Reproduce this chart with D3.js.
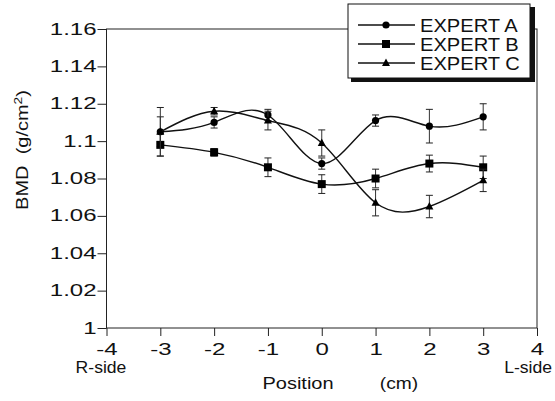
<!DOCTYPE html>
<html><head><meta charset="utf-8">
<script src="https://cdn.jsdelivr.net/npm/d3@7"></script>
<style>body{margin:0;background:#fff}svg{display:block;font-family:"Liberation Sans",Arial,sans-serif}</style>
</head><body><svg id="c" width="555" height="401"></svg>
<script>
const positions = [-3, -2, -1, 0, 1, 2, 3];
const expertA = [1.105, 1.110, 1.114, 1.088, 1.111, 1.108, 1.113];
const errA    = [0.008, 0.003, 0.003, 0.003, 0.003, 0.009, 0.007];
const expertB = [1.098, 1.094, 1.086, 1.077, 1.080, 1.088, 1.086];
const errB    = [0.006, 0.002, 0.005, 0.005, 0.005, 0.0045, 0.006];
const expertC = [1.105, 1.116, 1.111, 1.099, 1.067, 1.065, 1.079];
const errC    = [0.013, 0.002, 0.005, 0.007, 0.007, 0.006, 0.006];
const xTicks = [-4, -3, -2, -1, 0, 1, 2, 3, 4];
const yTicks = [1, 1.02, 1.04, 1.06, 1.08, 1.1, 1.12, 1.14, 1.16];
const yTickLabels = ["1", "1.02", "1.04", "1.06", "1.08", "1.1", "1.12", "1.14", "1.16"];
const seriesNames = ["EXPERT A", "EXPERT B", "EXPERT C"];

const svg = d3.select("#c");
const L = 106.5, R = 537, T = 29, B = 328;
const x = d3.scaleLinear().domain([-4, 4]).range([L, R]);
const y = d3.scaleLinear().domain([1, 1.16]).range([B, T]);
const FONT = '"Liberation Sans",Arial,sans-serif';
const TS = 1.5;

// frame
svg.append("rect").attr("x", L).attr("y", T).attr("width", R - L).attr("height", B - T)
  .attr("fill", "none").attr("stroke", "#222").attr("stroke-width", 1);

// axes
const yAxis = svg.append("g").attr("transform", `translate(${L},0)`)
  .call(d3.axisLeft(y).tickValues(yTicks).tickFormat((d, i) => yTickLabels[i]).tickSize(9).tickPadding(1));
const xAxis = svg.append("g").attr("transform", `translate(0,${B})`)
  .call(d3.axisBottom(x).tickValues(xTicks).tickFormat(d => String(d)).tickSize(8).tickPadding(8));
[yAxis, xAxis].forEach(g => {
  g.select(".domain").remove();
  g.selectAll("line").attr("stroke", "#222");
  g.selectAll("text").attr("fill", "#111").style("font-size", "16px").style("font-family", FONT)
    .attr("transform", `scale(${TS},1)`);
});
yAxis.selectAll("text").attr("x", -10 / TS);

function label(tx, ty, str, size, sx, anchor) {
  return svg.append("text").attr("transform", `translate(${tx},${ty}) scale(${sx},1)`)
    .attr("text-anchor", anchor).attr("fill", "#111").style("font-size", size + "px").text(str);
}
// axis labels
label(101, 373, "R-side", 16, 1.1, "middle");
label(552, 373, "L-side", 16, 1.1, "end");
label(298, 389, "Position", 16, 1.25, "middle");
label(399, 389, "(cm)", 16, 1.2, "middle");
const yl = svg.append("text").attr("transform", "translate(28,150) rotate(-90) scale(1.25,1)")
  .attr("text-anchor", "middle").attr("fill", "#111").style("font-size", "16px");
yl.append("tspan").text("BMD\u00a0\u00a0(g/cm");
yl.append("tspan").attr("dy", -6).style("font-size", "11px").text("2");
yl.append("tspan").attr("dy", 6).text(")");

const series = [
  {name: seriesNames[0], v: expertA, e: errA, m: "circle"},
  {name: seriesNames[1], v: expertB, e: errB, m: "square"},
  {name: seriesNames[2], v: expertC, e: errC, m: "triangle"}
];

function marker(g, type, cx, cy) {
  if (type === "circle") g.append("circle").attr("cx", cx).attr("cy", cy).attr("r", 3.6).attr("fill", "#000");
  else if (type === "square") g.append("rect").attr("x", cx - 4).attr("y", cy - 4).attr("width", 8).attr("height", 8).attr("fill", "#000");
  else g.append("path").attr("d", `M${cx},${cy - 4.5}L${cx + 4},${cy + 3}L${cx - 4},${cy + 3}Z`).attr("fill", "#000");
}

const line = d3.line().x(d => x(d[0])).y(d => y(d[1])).curve(d3.curveNatural);
series.forEach(s => {
  const pts = positions.map((p, i) => [p, s.v[i]]);
  svg.append("path").attr("d", line(pts)).attr("fill", "none").attr("stroke", "#111").attr("stroke-width", 1.4);
  const g = svg.append("g");
  positions.forEach((p, i) => {
    const cx = x(p), y1 = y(s.v[i] + s.e[i]), y2 = y(s.v[i] - s.e[i]);
    g.append("line").attr("x1", cx).attr("x2", cx).attr("y1", y1).attr("y2", y2).attr("stroke", "#333").attr("stroke-width", 1);
    [y1, y2].forEach(yy => g.append("line").attr("x1", cx - 3.5).attr("x2", cx + 3.5).attr("y1", yy).attr("y2", yy).attr("stroke", "#222").attr("stroke-width", 1));
    marker(g, s.m, cx, y(s.v[i]));
  });
});

// legend
const lg = svg.append("g");
lg.append("rect").attr("x", 351).attr("y", 7).attr("width", 184).attr("height", 75).attr("fill", "#111");
lg.append("rect").attr("x", 348).attr("y", 4).attr("width", 182).attr("height", 74).attr("fill", "#fff").attr("stroke", "#111").attr("stroke-width", 1);
series.forEach((s, i) => {
  const ry = 25 + i * 19;
  lg.append("line").attr("x1", 358).attr("x2", 415).attr("y1", ry).attr("y2", ry).attr("stroke", "#111").attr("stroke-width", 1.4);
  marker(lg, s.m, 386, ry);
  lg.append("text").attr("transform", `translate(420,${ry + 6.5}) scale(1.15,1)`).style("font-size", "17.5px").attr("fill", "#111").text(s.name);
});
</script></body></html>
